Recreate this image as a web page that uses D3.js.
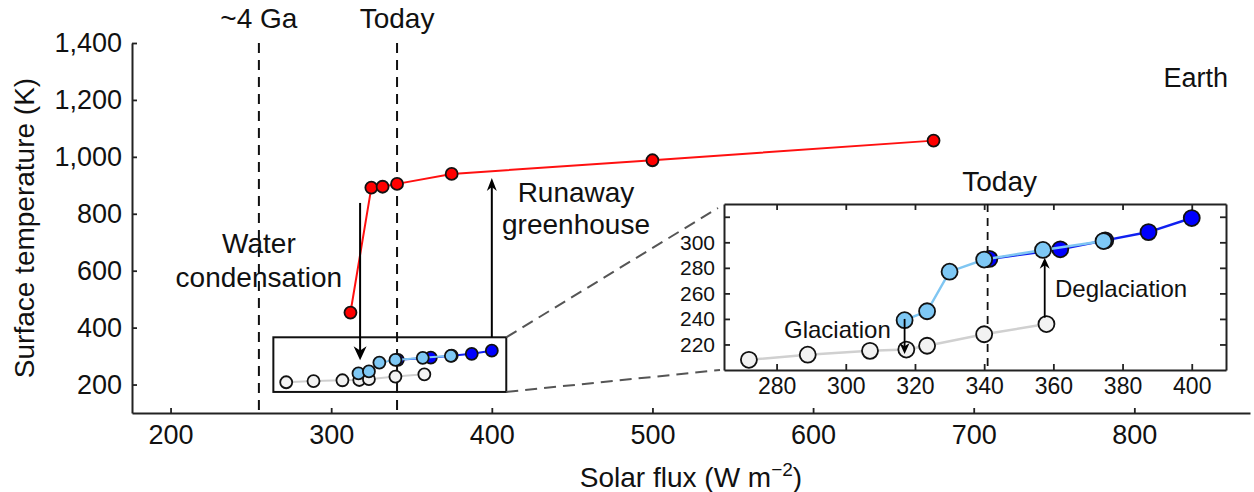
<!DOCTYPE html>
<html>
<head>
<meta charset="utf-8">
<script src="https://cdn.jsdelivr.net/npm/d3@7"></script>
<style>
  body { margin: 0; background: #fff; }
  text { font-family: "Liberation Sans", Arial, Helvetica, sans-serif; fill: #111; }
</style>
</head>
<body>
<div id="chart"></div>
<script>
// data (solar flux W m-2, surface temperature K)
const hotBranch = [[312, 453], [325, 892], [332, 895], [341, 905], [375, 940], [500, 988], [675, 1057]]
const coldBranch = [[272, 208], [289, 212], [307, 215], [317.5, 216], [323.5, 219], [340, 228], [358, 236]]
const warmUp = [[317, 239], [323.5, 246], [330, 277], [340, 286.5], [357, 294], [374.5, 301]]
const warmDown = [[341.5, 287], [362, 294.5], [375, 301.5], [387.5, 308], [400, 319]]

const xTicks = [200, 300, 400, 500, 600, 700, 800]
const yTicks = [200, 400, 600, 800, 1000, 1200, 1400]
const insetXTicks = [280, 300, 320, 340, 360, 380, 400]
const insetYTicks = [220, 240, 260, 280, 300, 320]

const fluxEarly = 255   // ~4 Ga
const fluxToday = 341
const zoomBox = { x0: 264, x1: 409, y0: 174, y1: 366 }

const width = 1254
const height = 492

const svg = d3.select("#chart")
  .append("svg")
  .attr("width", width)
  .attr("height", height)

// main scales
const x = d3.scaleLinear().domain([176, 872]).range([132, 1250])
const y = d3.scaleLinear().domain([100, 1400]).range([413, 43])

// inset scales
const ix = d3.scaleLinear().domain([264.8, 409.9]).range([724, 1226])
const iy = d3.scaleLinear().domain([200, 330]).range([370, 204])

function arrow(g, x0, y0, x1, y1, len, half, w) {
  g.append("line")
    .attr("x1", x0).attr("y1", y0)
    .attr("x2", x1).attr("y2", y1 - Math.sign(y1 - y0) * len * 0.6)
    .attr("stroke", "#000").attr("stroke-width", w)
  const d = Math.sign(y1 - y0)
  g.append("path")
    .attr("d", `M${x1},${y1} L${x1 - half},${y1 - d * len} L${x1},${y1 - d * len * 0.7} L${x1 + half},${y1 - d * len} Z`)
    .attr("fill", "#000")
}

function series(g, data, sx, sy, lineColor, fill, r, lw) {
  g.append("path")
    .datum(data)
    .attr("fill", "none")
    .attr("stroke", lineColor)
    .attr("stroke-width", lw)
    .attr("d", d3.line().x(d => sx(d[0])).y(d => sy(d[1])))
  g.selectAll(null)
    .data(data)
    .enter().append("circle")
    .attr("cx", d => sx(d[0]))
    .attr("cy", d => sy(d[1]))
    .attr("r", r)
    .attr("fill", fill)
    .attr("stroke", "#111")
    .attr("stroke-width", 1.8)
}

// ---- main axes
const yAxis = svg.append("g")
  .attr("transform", `translate(${x.range()[0]},0)`)
  .call(d3.axisLeft(y).tickValues(yTicks).tickFormat(d3.format(",")).tickSizeInner(-5).tickSizeOuter(0).tickPadding(10))
const xAxis = svg.append("g")
  .attr("transform", `translate(0,${y.range()[0]})`)
  .call(d3.axisBottom(x).tickValues(xTicks).tickSizeInner(-5).tickSizeOuter(0).tickPadding(12))

;[yAxis, xAxis].forEach(a => {
  a.select(".domain").attr("stroke", "#222").attr("stroke-width", 2)
  a.selectAll(".tick line").attr("stroke", "#222").attr("stroke-width", 1.8)
  a.selectAll("text").style("font-size", "27px").attr("fill", "#111")
})

svg.append("text")
  .attr("transform", `translate(34,${(y.range()[0] + y.range()[1]) / 2}) rotate(-90)`)
  .attr("text-anchor", "middle")
  .style("font-size", "28px")
  .text("Surface temperature (K)")

const xLabel = svg.append("text")
  .attr("x", (x.range()[0] + x.range()[1]) / 2)
  .attr("y", 487)
  .attr("text-anchor", "middle")
  .style("font-size", "28px")
xLabel.append("tspan").text("Solar flux (W m")
xLabel.append("tspan").attr("dy", -11).style("font-size", "19px").text("\u22122")
xLabel.append("tspan").attr("dy", 11).text(")")

// dashed reference lines
;[[fluxEarly, "~4 Ga"], [fluxToday, "Today"]].forEach(([f, label]) => {
  svg.append("line")
    .attr("x1", x(f)).attr("x2", x(f))
    .attr("y1", y(1400)).attr("y2", y(100))
    .attr("stroke", "#111").attr("stroke-width", 2)
    .attr("stroke-dasharray", "10,7")
  svg.append("text")
    .attr("x", x(f)).attr("y", 28)
    .attr("text-anchor", "middle")
    .style("font-size", "28px")
    .text(label)
})

// zoom rectangle and connectors
svg.append("rect")
  .attr("x", x(zoomBox.x0)).attr("y", y(zoomBox.y1))
  .attr("width", x(zoomBox.x1) - x(zoomBox.x0))
  .attr("height", y(zoomBox.y0) - y(zoomBox.y1))
  .attr("fill", "none").attr("stroke", "#111").attr("stroke-width", 2)

svg.append("line")
  .attr("x1", x(zoomBox.x1)).attr("y1", y(zoomBox.y1))
  .attr("x2", ix.range()[0] - 6).attr("y2", iy.range()[1] + 4)
  .attr("stroke", "#555").attr("stroke-width", 2).attr("stroke-dasharray", "12,7")
svg.append("line")
  .attr("x1", x(zoomBox.x1)).attr("y1", y(zoomBox.y0))
  .attr("x2", ix.range()[0] - 4).attr("y2", iy.range()[0])
  .attr("stroke", "#555").attr("stroke-width", 2).attr("stroke-dasharray", "12,7")

// main series
const main = svg.append("g")
series(main, hotBranch, x, y, "#ff1010", "#ff0000", 6, 2)
series(main, coldBranch, x, y, "#cfcfcf", "#f2f2f2", 6, 2)
series(main, warmDown, x, y, "#1020f0", "#0000ff", 6, 2)
series(main, warmUp, x, y, "#80c6f2", "#7ec8f5", 6, 2)

// main arrows
arrow(svg, x(318), y(838), x(318), y(285), 14, 6.5, 2)
arrow(svg, x(400), y(zoomBox.y1), x(400), y(926), 13, 5, 2)

svg.append("text").attr("x", x(fluxEarly)).attr("y", 253)
  .attr("text-anchor", "middle").style("font-size", "28px").text("Water")
svg.append("text").attr("x", x(fluxEarly)).attr("y", 287)
  .attr("text-anchor", "middle").style("font-size", "28px").text("condensation")
svg.append("text").attr("x", 576).attr("y", 202)
  .attr("text-anchor", "middle").style("font-size", "28px").text("Runaway")
svg.append("text").attr("x", 576).attr("y", 234)
  .attr("text-anchor", "middle").style("font-size", "28px").text("greenhouse")
svg.append("text").attr("x", 1228).attr("y", 87)
  .attr("text-anchor", "end").style("font-size", "27px").text("Earth")

// ---- inset
const inset = svg.append("g")
inset.append("rect")
  .attr("x", ix.range()[0]).attr("y", iy.range()[1])
  .attr("width", ix.range()[1] - ix.range()[0])
  .attr("height", iy.range()[0] - iy.range()[1])
  .attr("fill", "#fff")

const iLeft = inset.append("g").attr("transform", `translate(${ix.range()[0]},0)`)
  .call(d3.axisLeft(iy).tickValues(insetYTicks).tickFormat(d => d === 320 ? "" : d).tickSizeInner(-6).tickSizeOuter(0).tickPadding(9))
const iRight = inset.append("g").attr("transform", `translate(${ix.range()[1]},0)`)
  .call(d3.axisRight(iy).tickValues(insetYTicks).tickFormat("").tickSizeInner(-6).tickSizeOuter(0))
const iBottom = inset.append("g").attr("transform", `translate(0,${iy.range()[0]})`)
  .call(d3.axisBottom(ix).tickValues(insetXTicks).tickSizeInner(-6).tickSizeOuter(0).tickPadding(8))
const iTop = inset.append("g").attr("transform", `translate(0,${iy.range()[1]})`)
  .call(d3.axisTop(ix).tickValues(insetXTicks).tickFormat("").tickSizeInner(-6).tickSizeOuter(0))

;[iLeft, iRight, iBottom, iTop].forEach(a => {
  a.select(".domain").attr("stroke", "#222").attr("stroke-width", 2)
  a.selectAll(".tick line").attr("stroke", "#222").attr("stroke-width", 1.8)
  a.selectAll("text").attr("fill", "#111")
})
iLeft.selectAll("text").style("font-size", "21px")
iBottom.selectAll("text").style("font-size", "23px")

inset.append("line")
  .attr("x1", ix(fluxToday)).attr("x2", ix(fluxToday))
  .attr("y1", iy.range()[1]).attr("y2", iy.range()[0])
  .attr("stroke", "#111").attr("stroke-width", 1.8)
  .attr("stroke-dasharray", "8,6")
inset.append("text")
  .attr("x", ix(fluxToday) + 12).attr("y", 191)
  .attr("text-anchor", "middle").style("font-size", "28px").text("Today")

series(inset, coldBranch, ix, iy, "#d0d0d0", "#f2f2f2", 8, 2.5)
series(inset, warmDown, ix, iy, "#1020f0", "#0000ff", 8, 2.5)
series(inset, warmUp, ix, iy, "#80c6f2", "#7ec8f5", 8, 2.5)

arrow(inset, ix(317), iy(240), ix(317), iy(212.5), 11, 5, 1.8)
arrow(inset, ix(357.5), iy(241), ix(357.5), iy(288), 11, 5, 1.8)

inset.append("text").attr("x", 784).attr("y", 338)
  .style("font-size", "24px").text("Glaciation")
inset.append("text").attr("x", 1055).attr("y", 297)
  .style("font-size", "24px").text("Deglaciation")
</script>
</body>
</html>
